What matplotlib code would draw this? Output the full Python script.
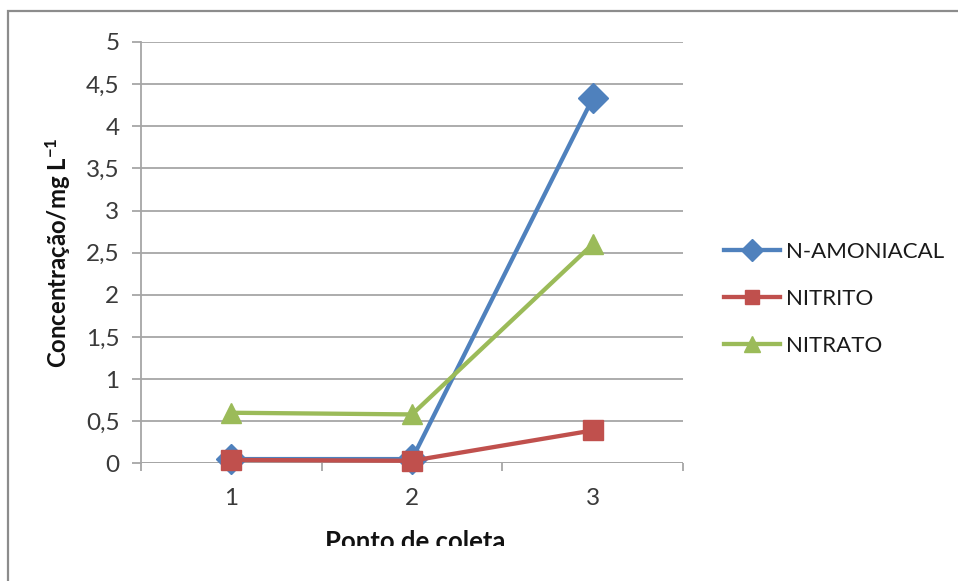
import matplotlib
matplotlib.use("Agg")
import matplotlib.pyplot as plt
from matplotlib.patches import Rectangle
from matplotlib.transforms import Bbox, TransformedBbox

plt.rcParams["font.family"] = ["Lato", "DejaVu Sans"]
plt.rcParams["mathtext.fontset"] = "custom"
plt.rcParams["mathtext.rm"] = "Lato"
plt.rcParams["mathtext.bf"] = "Lato:bold"

# Sampling points and measured concentrations (mg/L)
pontos = [1, 2, 3]
n_amoniacal = [0.05, 0.05, 4.33]
nitrito = [0.04, 0.03, 0.39]
nitrato = [0.60, 0.58, 2.60]
series_names = ["N-AMONIACAL", "NITRITO", "NITRATO"]
y_ticks = [0, 0.5, 1, 1.5, 2, 2.5, 3, 3.5, 4, 4.5, 5]
y_ticklabels = ["0", "0,5", "1", "1,5", "2", "2,5", "3", "3,5", "4", "4,5", "5"]

W, H = 958, 581
fig = plt.figure(figsize=(W / 100, H / 100), dpi=100)

# chart frame (runs past the right and bottom edges)
fig.patches.append(Rectangle((8 / W, -0.1), 1.2, 1 - 10.5 / H + 0.1,
                             transform=fig.transFigure, fill=False,
                             edgecolor="#8c8c8c", linewidth=1.6, zorder=0))

ax = fig.add_axes([141 / W, 1 - 463.3 / H, (683 - 141) / W, (463.3 - 42) / H])

grid_c = "#a6a6a6"
ax.set_xlim(0.5, 3.5)
ax.set_ylim(0, 5)
ax.set_yticks(y_ticks)
ax.set_yticklabels(y_ticklabels)
ax.set_xticks(pontos)
ax.set_xticklabels([str(p) for p in pontos])
ax.set_xticks([0.5, 1.5, 2.5, 3.5], minor=True)
ax.yaxis.grid(True, color=grid_c, linewidth=1.3)
ax.set_axisbelow(True)
for s in ["top", "right", "bottom"]:
    ax.spines[s].set_visible(False)
ax.spines["left"].set_color(grid_c)
ax.spines["left"].set_linewidth(1.3)
ax.tick_params(axis="y", direction="out", length=6.5, width=1.3, color=grid_c,
               labelsize=17.5, labelcolor="#3a3a3a", pad=9)
ax.tick_params(axis="x", which="major", length=0, labelsize=17.5,
               labelcolor="#3a3a3a", pad=18)
ax.tick_params(axis="x", which="minor", direction="out", length=6, width=1.3,
               color=grid_c)

# x axis line drawn as the zero gridline
ax.axhline(0, color=grid_c, linewidth=1.3, zorder=1)

l1, = ax.plot(pontos, n_amoniacal, color="#4F81BD", linewidth=3.1, marker="D",
              markersize=15, label=series_names[0], zorder=3)
l2, = ax.plot(pontos, nitrito, color="#C0504D", linewidth=3.1, marker="s",
              markersize=14, label=series_names[1], zorder=4)
l3, = ax.plot(pontos, nitrato, color="#9BBB59", linewidth=3.1, marker="^",
              markersize=15, label=series_names[2], zorder=3)
for l in (l1, l2, l3):
    l.set_clip_on(False)

leg = fig.legend(handles=[l1, l2, l3], loc="upper left",
                 bbox_to_anchor=(724 / W, 1 - 242 / H), frameon=False,
                 fontsize=16, handlelength=2.5, handletextpad=0.27,
                 labelspacing=1.21, markerscale=0.75, borderaxespad=0,
                 borderpad=0)
for t in leg.get_texts():
    t.set_color("#1a1a1a")

ax.set_ylabel("Concentração/mg $\\mathbf{L^{-1}}$", fontsize=17.2, fontweight="bold",
              color="#111111", labelpad=9)

xl = fig.text(415 / W, 1 - 550 / H, "Ponto de coleta", ha="center", va="baseline",
              fontsize=18.5, fontweight="bold", color="#111111")
xl.set_clip_box(TransformedBbox(Bbox([[0, 1 - 545.5 / H], [1, 1]]), fig.transFigure))
xl.set_clip_on(True)

fig.savefig("out.png", dpi=100, facecolor="white")
